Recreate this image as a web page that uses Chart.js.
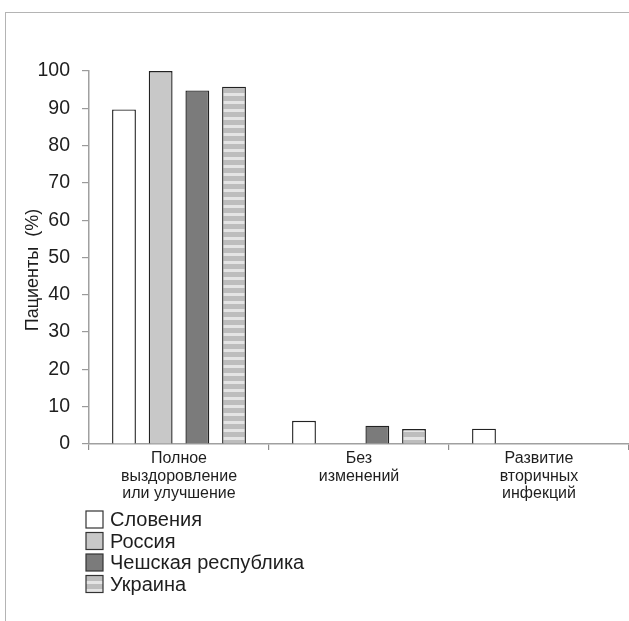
<!DOCTYPE html>
<html>
<head>
<meta charset="utf-8">
<script src="https://cdn.jsdelivr.net/npm/chart.js@4.4.1/dist/chart.umd.min.js"></script>
<style>
  html, body { margin: 0; padding: 0; background: #fff; }
  #wrap { position: relative; width: 629px; height: 621px; }
  #frame { position: absolute; left: 5px; top: 12px; right: 0; bottom: 0;
           border-top: 1px solid #b4b4b4; border-left: 1px solid #b4b4b4; }
  canvas { position: absolute; left: 0; top: 0; }
</style>
</head>
<body>
<div id="wrap">
  <div id="frame"></div>
  <canvas id="chart" width="629" height="621"></canvas>
</div>
<script>
// === DADOS ===
const categories = [
    ['Полное', 'выздоровление', 'или улучшение'],
    ['Без', 'изменений'],
    ['Развитие', 'вторичных', 'инфекций']
];
const countries = ['Словения', 'Россия', 'Чешская республика', 'Украина'];
const slovenia = [89.7, 6.2, 4.1];
const russia = [100, null, null];
const czech = [94.8, 4.9, null];
const ukraine = [95.8, 4.0, null];
const yTicks = [0, 10, 20, 30, 40, 50, 60, 70, 80, 90, 100];

// === HACHURA (Украина) ===
const stripe = document.createElement('canvas');
stripe.width = 8; stripe.height = 8;
const sctx = stripe.getContext('2d');
sctx.fillStyle = '#bdbdbd';
sctx.fillRect(0, 0, 8, 8);
sctx.fillStyle = '#e4e4e4';
sctx.fillRect(0, 5, 8, 3);

const ctx = document.getElementById('chart').getContext('2d');
const stripePattern = ctx.createPattern(stripe, 'repeat');

const fills = ['#ffffff', '#c8c8c8', '#7b7b7b', stripePattern];
const series = [slovenia, russia, czech, ukraine];

const font = 'Liberation Sans, Arial, Helvetica, sans-serif';
const textColor = '#1e1e1e';

// legenda vertical desenhada no canvas
const stackedLegend = {
    id: 'stackedLegend',
    afterDraw(chart) {
        const c = chart.ctx;
        c.save();
        c.font = '20px ' + font;
        c.textBaseline = 'middle';
        chart.data.datasets.forEach((ds, i) => {
            const y = 511 + i * 21.5;
            c.fillStyle = ds.backgroundColor;
            c.fillRect(86, y, 17, 17);
            c.strokeStyle = '#333';
            c.lineWidth = 1.2;
            c.strokeRect(86, y, 17, 17);
            c.fillStyle = textColor;
            c.fillText(ds.label, 110, y + 9.5);
        });
        c.restore();
    }
};

new Chart(ctx, {
    type: 'bar',
    data: {
        labels: categories,
        datasets: countries.map((name, i) => ({
            label: name,
            data: series[i],
            backgroundColor: fills[i],
            borderColor: '#222',
            borderWidth: 1.4,
            borderSkipped: 'bottom',
            barPercentage: 0.65,
            categoryPercentage: 0.815
        }))
    },
    options: {
        responsive: false,
        animation: false,
        layout: { padding: { top: 71, left: 0, right: 0, bottom: 0 } },
        plugins: {
            legend: { display: false },
            tooltip: { enabled: false }
        },
        scales: {
            x: {
                grid: { display: true, drawOnChartArea: false, offset: true,
                        color: '#8c8c8c', tickLength: 6, lineWidth: 1.2 },
                border: { color: '#a0a0a0', width: 1.5 },
                ticks: { color: textColor, padding: 0, maxRotation: 0, autoSkip: false,
                         font: { family: font, size: 16, lineHeight: 1.1 } },
                afterFit: s => { s.height = 621 - 444; }
            },
            y: {
                min: 0, max: 100,
                afterBuildTicks: s => { s.ticks = yTicks.map(v => ({ value: v })); },
                grid: { display: true, drawOnChartArea: false, color: '#9a9a9a',
                        tickLength: 7, lineWidth: 1.2 },
                border: { color: '#a0a0a0', width: 1.5 },
                ticks: { color: textColor, padding: 12, font: { family: font, size: 19.5 } },
                title: { display: true,
                         text: 'Пациенты  (%)\u00a0\u00a0\u00a0\u00a0\u00a0',
                         color: textColor,
                         font: { family: font, size: 18 },
                         padding: { top: 22, bottom: 0 } },
                afterFit: s => { s.width = 89; }
            }
        }
    },
    plugins: [stackedLegend]
});
</script>
</body>
</html>
